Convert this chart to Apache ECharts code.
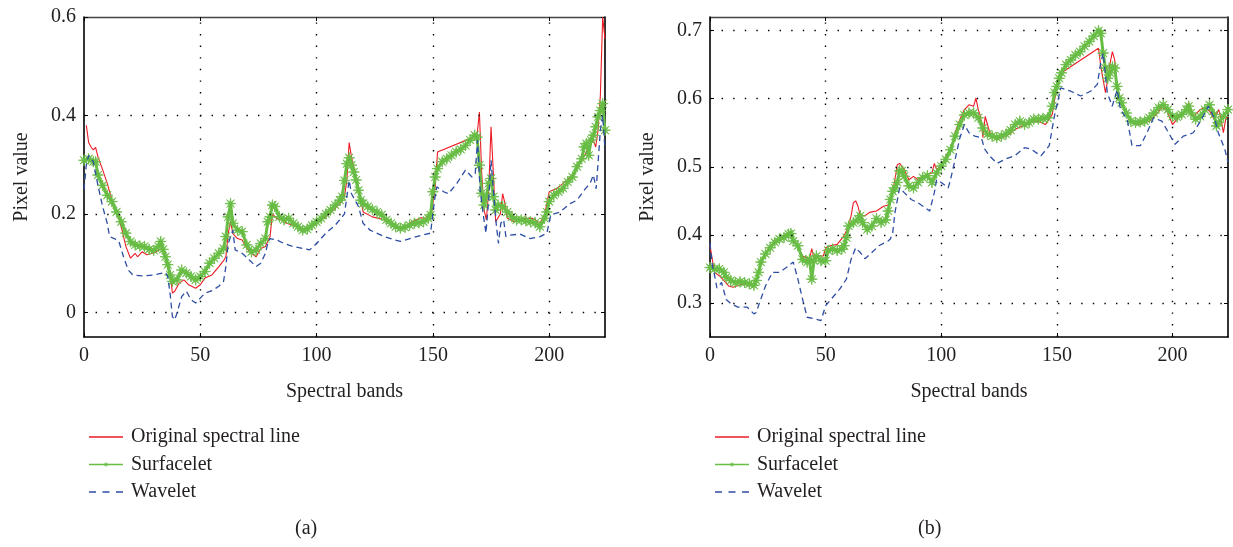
<!DOCTYPE html>
<html>
<head>
<meta charset="utf-8">
<script src="https://cdn.jsdelivr.net/npm/echarts@6/dist/echarts.min.js"></script>
<style>
html,body{margin:0;padding:0;background:#fff;}
#c{width:1233px;height:547px;}
</style>
</head>
<body>
<div id="c"></div>
<script>
// ---------------- DATA ----------------
const seriesNames = ['Original spectral line', 'Surfacelet', 'Wavelet'];
const panelLabels = ['(a)', '(b)'];
const xTicks = [0, 50, 100, 150, 200];
const yTicksA = [0, 0.2, 0.4, 0.6];
const yTicksB = [0.3, 0.4, 0.5, 0.6, 0.7];
const xGrid = [50, 100, 150, 200];
const yGridA = [0, 0.2, 0.4];
const yGridB = [0.3, 0.4, 0.5, 0.6, 0.7];

// panel (a)
const origA = [[1,0.38],[2,0.345],[3,0.336],[4,0.33],[5,0.335],[6,0.316],[8,0.29],[10,0.262],[12,0.228],[14,0.205],[16,0.174],[18,0.134],[20,0.11],[22,0.12],[23,0.113],[25,0.123],[27,0.117],[30,0.121],[33,0.128],[35,0.12],[37,0.083],[38,0.039],[39,0.043],[41,0.06],[43,0.066],[45,0.056],[48,0.049],[50,0.056],[52,0.07],[55,0.076],[58,0.093],[60,0.105],[61,0.113],[62,0.16],[63,0.185],[64,0.16],[66,0.15],[68,0.147],[70,0.13],[72,0.12],[74,0.113],[76,0.13],[78,0.134],[80,0.154],[81,0.2],[83,0.19],[85,0.188],[87,0.181],[90,0.177],[93,0.171],[96,0.169],[100,0.181],[105,0.198],[110,0.221],[112,0.236],[113,0.268],[114,0.345],[115,0.316],[118,0.255],[120,0.204],[124,0.194],[129,0.188],[133,0.177],[137,0.171],[141,0.184],[145,0.192],[147,0.191],[149.5,0.204],[151,0.255],[152,0.326],[168,0.357],[169,0.36],[170,0.407],[171,0.282],[172,0.208],[173,0.188],[174,0.248],[175,0.377],[176,0.282],[177,0.184],[179,0.2],[180,0.241],[181,0.221],[182,0.191],[185,0.184],[189,0.191],[193,0.191],[196,0.181],[198,0.198],[200,0.245],[203,0.251],[206,0.262],[209,0.274],[212,0.292],[215,0.316],[217,0.336],[219,0.35],[220,0.336],[221,0.37],[222,0.44],[223,0.6],[224,0.555]];
const surfA = [[0,0.309],[2,0.312],[4,0.306],[5,0.306],[6,0.279],[8,0.258],[10,0.238],[12,0.225],[14,0.204],[16,0.184],[18,0.161],[20,0.144],[22,0.137],[24,0.135],[26,0.134],[28,0.128],[30,0.126],[32,0.134],[33,0.144],[34,0.128],[35,0.113],[36,0.097],[37,0.076],[38,0.063],[40,0.066],[42,0.086],[44,0.08],[46,0.073],[48,0.066],[50,0.073],[52,0.083],[54,0.1],[56,0.11],[58,0.12],[60,0.13],[61,0.154],[62,0.194],[63,0.221],[64,0.181],[66,0.167],[68,0.164],[70,0.137],[72,0.123],[74,0.127],[76,0.14],[78,0.15],[79,0.184],[80,0.194],[81,0.218],[82,0.215],[84,0.194],[86,0.188],[88,0.191],[90,0.181],[92,0.174],[94,0.167],[96,0.169],[98,0.177],[100,0.184],[102,0.191],[104,0.2],[106,0.208],[108,0.218],[110,0.228],[111,0.235],[112,0.268],[113,0.302],[114,0.314],[115,0.299],[116,0.285],[117,0.269],[118,0.248],[119,0.228],[120,0.221],[122,0.215],[124,0.209],[126,0.204],[128,0.198],[130,0.188],[132,0.181],[134,0.174],[136,0.171],[138,0.173],[140,0.177],[142,0.181],[144,0.182],[146,0.184],[148,0.191],[149,0.198],[150,0.245],[151,0.275],[152,0.292],[154,0.306],[156,0.312],[158,0.319],[160,0.326],[162,0.331],[164,0.339],[166,0.35],[168,0.36],[169,0.356],[170,0.299],[171,0.242],[172,0.218],[173,0.235],[174,0.262],[175,0.272],[176,0.235],[177,0.208],[178,0.218],[180,0.215],[182,0.204],[184,0.194],[186,0.188],[188,0.188],[190,0.186],[192,0.184],[194,0.182],[196,0.174],[198,0.191],[199,0.204],[200,0.225],[202,0.238],[204,0.245],[206,0.252],[208,0.265],[210,0.275],[212,0.296],[214,0.312],[215,0.336],[216,0.343],[217,0.319],[218,0.35],[219,0.36],[220,0.377],[221,0.397],[222,0.41],[223,0.424],[224,0.37]];
const waveA = [[0,0.25],[1,0.3],[2,0.319],[4,0.306],[6,0.258],[8,0.215],[10,0.181],[11,0.154],[13,0.15],[15,0.144],[17,0.113],[19,0.086],[21,0.076],[25,0.074],[30,0.076],[35,0.081],[36,0.073],[37,0.039],[38,-0.008],[39,-0.015],[40,-0.001],[42,0.032],[44,0.043],[46,0.026],[48,0.019],[50,0.029],[52,0.039],[55,0.044],[58,0.053],[60,0.063],[61,0.093],[62,0.14],[64,0.167],[65,0.127],[68,0.12],[71,0.107],[74,0.093],[76,0.1],[78,0.12],[79,0.14],[80,0.15],[83,0.147],[86,0.14],[89,0.135],[94,0.13],[97,0.127],[100,0.14],[104,0.161],[108,0.177],[112,0.2],[113,0.235],[114,0.268],[115,0.241],[118,0.215],[120,0.181],[123,0.167],[129,0.154],[136,0.144],[143,0.154],[149,0.161],[150.7,0.228],[151.7,0.255],[154.6,0.245],[156.7,0.241],[160.3,0.262],[164,0.289],[166.8,0.275],[168.2,0.282],[169.2,0.35],[170.3,0.248],[171.8,0.194],[172.8,0.161],[174,0.228],[175,0.309],[176,0.248],[177.2,0.181],[178.2,0.14],[179.2,0.181],[180.4,0.188],[181.4,0.154],[183.2,0.157],[187.5,0.159],[191.8,0.15],[196.1,0.154],[199,0.161],[200.7,0.198],[204.7,0.204],[209,0.221],[212,0.228],[215.5,0.251],[217.6,0.262],[219,0.279],[220.2,0.251],[221.2,0.316],[222,0.37],[223,0.4],[224,0.33]];

// panel (b)
const origB = [[0,0.384],[1,0.364],[2,0.345],[4,0.34],[6,0.333],[8,0.325],[10,0.323],[14,0.328],[18,0.325],[20,0.335],[22,0.36],[25,0.379],[28,0.391],[32,0.399],[35,0.401],[37,0.389],[40,0.369],[43,0.364],[44,0.38],[45,0.364],[47,0.369],[49,0.369],[50,0.381],[52,0.384],[55,0.386],[58,0.399],[60,0.413],[61,0.428],[62,0.447],[63,0.45],[64,0.442],[65,0.428],[67,0.428],[69,0.433],[72,0.435],[75,0.442],[77,0.444],[79,0.462],[81,0.503],[82,0.505],[84,0.496],[86,0.481],[88,0.486],[90,0.481],[92,0.486],[94,0.489],[96,0.491],[97,0.505],[98,0.496],[100,0.501],[102,0.516],[104,0.525],[106,0.55],[108,0.569],[110,0.584],[112,0.591],[114,0.589],[115,0.601],[116,0.584],[117,0.574],[118,0.543],[119,0.574],[121,0.55],[124,0.54],[128,0.545],[132,0.555],[135,0.56],[138,0.565],[142,0.567],[145,0.562],[148,0.577],[150,0.618],[152,0.638],[168,0.674],[169,0.647],[170,0.628],[171,0.609],[172,0.628],[173,0.652],[174,0.669],[175,0.657],[176,0.618],[178,0.594],[180,0.579],[182,0.565],[185,0.562],[190,0.567],[193,0.577],[196,0.589],[198,0.579],[200,0.562],[203,0.574],[206,0.584],[207,0.594],[209,0.574],[212,0.584],[214,0.587],[216,0.582],[218,0.57],[220,0.584],[221,0.57],[222,0.55],[223,0.57],[224,0.575]];
const surfB = [[0,0.352],[2,0.35],[4,0.35],[6,0.345],[7,0.338],[9,0.333],[11,0.33],[13,0.331],[15,0.33],[17,0.328],[19,0.326],[20,0.333],[21,0.345],[22,0.36],[24,0.372],[26,0.381],[28,0.389],[30,0.394],[32,0.396],[34,0.401],[35,0.402],[36,0.391],[38,0.384],[40,0.364],[42,0.36],[43,0.364],[44,0.335],[45,0.362],[46,0.369],[48,0.362],[50,0.362],[51,0.377],[53,0.379],[55,0.377],[57,0.379],[58,0.384],[59,0.396],[60,0.413],[62,0.418],[64,0.423],[65,0.428],[66,0.418],[68,0.408],[70,0.413],[72,0.424],[74,0.418],[76,0.422],[77,0.435],[78,0.452],[79,0.464],[80,0.469],[81,0.477],[82,0.494],[83,0.494],[84,0.486],[86,0.472],[88,0.469],[90,0.477],[92,0.484],[94,0.487],[96,0.477],[98,0.491],[100,0.501],[102,0.511],[104,0.525],[106,0.545],[108,0.562],[110,0.576],[112,0.579],[114,0.579],[116,0.572],[118,0.557],[120,0.548],[122,0.545],[124,0.543],[126,0.545],[128,0.548],[130,0.554],[132,0.562],[134,0.567],[136,0.562],[138,0.565],[140,0.57],[142,0.57],[144,0.571],[146,0.572],[148,0.589],[149,0.609],[150,0.618],[151,0.63],[152,0.638],[154,0.65],[156,0.657],[158,0.664],[160,0.669],[162,0.677],[164,0.684],[166,0.692],[168,0.7],[169,0.696],[170,0.667],[171,0.645],[172,0.63],[173,0.638],[174,0.647],[175,0.645],[176,0.618],[177,0.601],[178,0.594],[180,0.579],[182,0.567],[184,0.565],[186,0.566],[188,0.567],[190,0.572],[192,0.579],[194,0.587],[196,0.591],[198,0.584],[200,0.574],[202,0.573],[204,0.577],[206,0.584],[207,0.589],[208,0.579],[210,0.57],[212,0.574],[214,0.584],[216,0.591],[218,0.577],[219,0.56],[220,0.565],[222,0.574],[224,0.584]];
const waveB = [[0,0.388],[1,0.355],[2,0.34],[3,0.322],[5,0.33],[7,0.305],[9,0.299],[12,0.294],[16,0.294],[19,0.284],[20,0.286],[22,0.306],[24,0.325],[27,0.345],[30,0.345],[33,0.352],[36,0.36],[38,0.335],[40,0.306],[42,0.279],[45,0.277],[48,0.274],[50,0.296],[53,0.308],[56,0.32],[59,0.335],[61,0.364],[63,0.381],[65,0.374],[67,0.365],[70,0.374],[73,0.384],[77,0.391],[78,0.394],[79,0.403],[80,0.433],[82,0.469],[84,0.462],[87,0.452],[90,0.447],[93,0.44],[95,0.435],[97,0.462],[98,0.481],[100,0.477],[103,0.469],[104,0.481],[106,0.511],[108,0.542],[110,0.562],[112,0.55],[114.5,0.545],[117.3,0.543],[118.8,0.526],[120.9,0.516],[124.1,0.505],[128.1,0.512],[131.7,0.516],[136,0.528],[138.8,0.526],[143.1,0.516],[146.7,0.531],[148.9,0.574],[151.7,0.616],[156,0.611],[160.3,0.604],[164.6,0.611],[167.5,0.621],[168.9,0.652],[170,0.667],[171.8,0.609],[173.9,0.589],[176.1,0.613],[177.5,0.584],[180.4,0.57],[182.5,0.531],[186.1,0.531],[189,0.55],[191.8,0.572],[195.4,0.567],[198.3,0.55],[201.1,0.533],[204.7,0.545],[209,0.55],[212.6,0.57],[215.5,0.589],[218.3,0.57],[219.8,0.55],[222.6,0.526],[224,0.507]];

// ---------------- STYLE / BUILD ----------------
const FONT = 'Liberation Serif';
const FS = 20;
const TXT = '#231f20';
const RED = '#ec1c24';
const GREEN = '#68bd45';
const BLUE = '#2e4da4';

function starPts(cx, cy, ro, ri) {
  const pts = [];
  for (let i = 0; i < 16; i++) {
    const a = i * Math.PI / 8 - Math.PI / 2;
    const r = (i % 2 === 0) ? ro : ri;
    pts.push((cx + r * Math.cos(a)).toFixed(2) + ',' + (cy + r * Math.sin(a)).toFixed(2));
  }
  return 'M' + pts.join('L') + 'Z';
}
const STAR = 'path://' + starPts(10, 10, 10, 2.6);

// legend icons (34 x 10 box, corner points keep the box)
const BOX = 'M0,0L0,0ZM34,10L34,10Z';
const ICON_LINE = 'path://' + BOX + 'M0,4.3L34,4.3L34,5.7L0,5.7Z';
const ICON_STAR = 'path://' + BOX + 'M0,4.3L34,4.3L34,5.7L0,5.7Z' + starPts(17, 5, 3, 1.0);
const ICON_DASH = 'path://' + BOX + 'M0,4.3L7,4.3L7,5.7L0,5.7ZM13.5,4.3L20.5,4.3L20.5,5.7L13.5,5.7ZM27,4.3L34,4.3L34,5.7L27,5.7Z';
const legendIcons = [ICON_LINE, ICON_STAR, ICON_DASH];

const grids = [
  {left: 84, top: 17, width: 521, height: 320},
  {left: 710, top: 17, width: 518, height: 320}
];
const yRanges = [[-0.05, 0.6], [0.25, 0.72]];
const yTicks = [yTicksA, yTicksB];
const yGrids = [yGridA, yGridB];
const data = [[origA, surfA, waveA], [origB, surfB, waveB]];

const xAxes = [], yAxes = [], series = [], legends = [], graphics = [];
const labelStyle = {fontFamily: FONT, fontSize: FS, color: TXT};

for (let g = 0; g < 2; g++) {
  xAxes.push({
    type: 'value', gridIndex: g, position: 'bottom', min: 0, max: 224,
    name: 'Spectral bands', nameLocation: 'middle', nameGap: 45,
    nameTextStyle: labelStyle,
    axisLine: {show: true, onZero: false, lineStyle: {color: '#000', width: 1.6}},
    axisTick: {show: true, inside: true, length: 4, customValues: xTicks, lineStyle: {color: '#000'}},
    axisLabel: {customValues: xTicks, margin: 9, ...labelStyle},
    splitLine: {show: false}
  });
  xAxes.push({
    type: 'value', gridIndex: g, position: 'top', min: 0, max: 224,
    axisLine: {show: true, onZero: false, lineStyle: {color: '#444', width: 1.4}},
    axisTick: {show: true, inside: true, length: 4, customValues: xTicks, lineStyle: {color: '#000'}},
    axisLabel: {show: false},
    splitLine: {show: false}
  });
  yAxes.push({
    type: 'value', gridIndex: g, position: 'left', min: yRanges[g][0], max: yRanges[g][1],
    name: 'Pixel value', nameLocation: 'middle', nameGap: 52, nameRotate: 90,
    nameTextStyle: labelStyle,
    axisLine: {show: true, onZero: false, lineStyle: {color: '#000', width: 1.6}},
    axisTick: {show: true, inside: true, length: 4, customValues: yTicks[g], lineStyle: {color: '#000'}},
    axisLabel: {customValues: yTicks[g], margin: 8, ...labelStyle},
    splitLine: {show: false}
  });
  yAxes.push({
    type: 'value', gridIndex: g, position: 'right', min: yRanges[g][0], max: yRanges[g][1],
    axisLine: {show: true, onZero: false, lineStyle: {color: '#000', width: 1.6}},
    axisTick: {show: true, inside: true, length: 4, customValues: yTicks[g], lineStyle: {color: '#000'}},
    axisLabel: {show: false},
    splitLine: {show: false}
  });

  const xi = g * 2, yi = g * 2;
  const gridMarks = [];
  xGrid.forEach(v => gridMarks.push({xAxis: v}));
  yGrids[g].forEach(v => gridMarks.push({yAxis: v}));

  series.push({
    name: seriesNames[0], type: 'line', xAxisIndex: xi, yAxisIndex: yi,
    data: data[g][0], symbol: 'none', z: 3,
    lineStyle: {color: RED, width: 1.1}, itemStyle: {color: RED},
    markLine: {
      silent: true, symbol: ['none', 'none'], label: {show: false},
      lineStyle: {color: '#000', width: 1.4, type: [1.4, 10.2]},
      emphasis: {disabled: true},
      data: gridMarks
    }
  });
  series.push({
    name: seriesNames[1], type: 'line', xAxisIndex: xi, yAxisIndex: yi,
    data: data[g][1], symbol: STAR, symbolSize: 11, showSymbol: true, z: 4,
    lineStyle: {color: GREEN, width: 3},
    itemStyle: {color: GREEN, borderColor: GREEN, borderWidth: 0.8}
  });
  series.push({
    name: seriesNames[2], type: 'line', xAxisIndex: xi, yAxisIndex: yi,
    data: data[g][2], symbol: 'none', z: 5,
    lineStyle: {color: BLUE, width: 1.3, type: [6, 4]}, itemStyle: {color: BLUE}
  });

  legends.push({
    orient: 'vertical', left: grids[g].left, top: 422,
    itemWidth: 34, itemHeight: 10, itemGap: 7.5,
    data: seriesNames.map((n, k) => ({name: n, icon: legendIcons[k]})),
    itemStyle: {borderWidth: 0},
    textStyle: {fontFamily: FONT, fontSize: FS, color: TXT, padding: [0, 0, 0, 3]},
    selectedMode: false
  });
}

graphics.push({type: 'text', left: 295, top: 519, style: {text: panelLabels[0], font: FS + 'px "' + FONT + '"', fill: TXT}});
graphics.push({type: 'text', left: 918, top: 519, style: {text: panelLabels[1], font: FS + 'px "' + FONT + '"', fill: TXT}});

const chart = echarts.init(document.getElementById('c'), null, {renderer: 'canvas'});
chart.setOption({
  animation: false,
  backgroundColor: '#fff',
  grid: grids,
  xAxis: xAxes,
  yAxis: yAxes,
  legend: legends,
  series: series,
  graphic: graphics
});
</script>
</body>
</html>
